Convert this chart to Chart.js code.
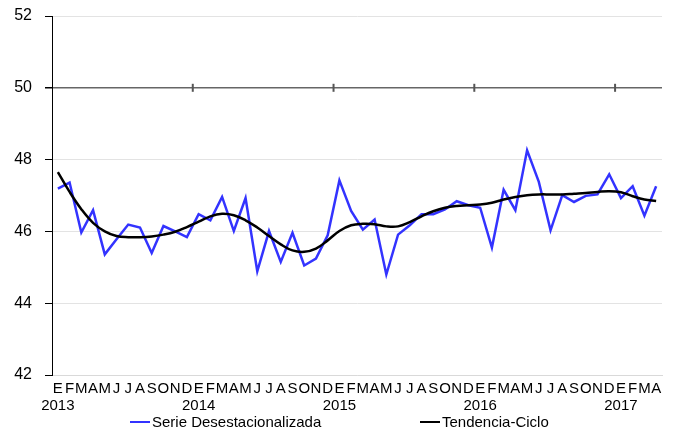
<!DOCTYPE html>
<html>
<head>
<meta charset="utf-8">
<script src="https://cdn.jsdelivr.net/npm/chart.js@4"></script>
<style>
  body { margin: 0; background: #fff; }
  #wrap { position: relative; width: 673px; height: 432px; }
  .leg { position: absolute; top: 413px; font: 15px "Liberation Sans", Arial, sans-serif; color: #000; white-space: nowrap; }
  .leg span { display: inline-block; width: 20px; height: 2px; vertical-align: middle; margin-right: 2px; position: relative; top: -1px; }
</style>
</head>
<body>
<div id="wrap">
  <canvas id="chart" width="673" height="432"></canvas>
  <div class="leg" style="left:130px"><span style="background:#3333ff"></span>Serie Desestacionalizada</div>
  <div class="leg" style="left:420px"><span style="background:#000"></span>Tendencia-Ciclo</div>
</div>
<script>
const months = ['E', 'F', 'M', 'A', 'M', 'J', 'J', 'A', 'S', 'O', 'N', 'D'];
const years = ['2013', '2014', '2015', '2016', '2017'];

// Ene 2013 - Abr 2017
const serieDesest = [
  47.19, 47.36, 45.97, 46.59, 45.36, 45.78, 46.19, 46.11, 45.40, 46.15, 46.00, 45.84,
  46.48, 46.31, 46.96, 46.01, 46.93, 44.89, 46.01, 45.15, 45.96, 45.05, 45.24, 45.89,
  47.42, 46.57, 46.05, 46.33, 44.80, 45.91, 46.17, 46.48, 46.48, 46.61, 46.84, 46.73,
  46.66, 45.55, 47.16, 46.59, 48.26, 47.38, 46.03, 47.01, 46.82, 46.99, 47.03, 47.59,
  46.93, 47.26, 46.44, 47.26
];
const tendencia = [
  47.65, 47.10, 46.62, 46.24, 46.00, 45.87, 45.84, 45.84, 45.86, 45.91, 45.99, 46.12,
  46.27, 46.42, 46.49, 46.45, 46.31, 46.11, 45.87, 45.64, 45.47, 45.43, 45.52, 45.75,
  46.01, 46.17, 46.21, 46.20, 46.14, 46.14, 46.26, 46.42, 46.56, 46.66, 46.71, 46.73,
  46.75, 46.80, 46.89, 46.96, 47.01, 47.03, 47.03, 47.03, 47.05, 47.07, 47.10, 47.12,
  47.09, 46.98, 46.89, 46.85
];
const yTicks = [42, 44, 46, 48, 50, 52];

const labels = serieDesest.map((v, i) => {
  const m = months[i % 12];
  return i % 12 === 0 ? [m, years[i / 12]] : m;
});

// marcas de año sobre la línea de 50
const yearMarks = {
  id: 'yearMarks',
  beforeDatasetsDraw(chart) {
    const x = chart.scales.x, y = chart.scales.y;
    const c = chart.ctx;
    const y50 = y.getPixelForValue(50);
    c.save();
    c.strokeStyle = '#555';
    c.lineWidth = 2;
    for (let i = 12; i < labels.length; i += 12) {
      const px = x.getPixelForValue(i - 0.5);
      c.beginPath();
      c.moveTo(px, y50 - 4);
      c.lineTo(px, y50 + 4);
      c.stroke();
    }
    c.restore();
  }
};

new Chart(document.getElementById('chart'), {
  type: 'line',
  data: {
    labels: labels,
    datasets: [
      {
        label: 'Serie Desestacionalizada',
        data: serieDesest,
        borderColor: '#3333ff',
        borderWidth: 2.5,
        pointRadius: 0,
        tension: 0,
        order: 1
      },
      {
        label: 'Tendencia-Ciclo',
        data: tendencia,
        borderColor: '#000',
        borderWidth: 2.5,
        pointRadius: 0,
        tension: 0.4,
        order: 0
      }
    ]
  },
  options: {
    responsive: false,
    animation: false,
    layout: { padding: { top: 16, right: 11, bottom: 17, left: 0 } },
    plugins: {
      legend: { display: false },
      tooltip: { enabled: false }
    },
    scales: {
      x: {
        offset: true,
        grid: { display: false },
        border: { color: '#d9d9d9', width: 1 },
        ticks: {
          autoSkip: false,
          maxRotation: 0,
          padding: -2,
          color: '#000',
          font: { family: '"Liberation Sans", Arial, sans-serif', size: 15, lineHeight: 1.1 }
        },
        afterFit: s => { s.height = 40; }
      },
      y: {
        min: 42,
        max: 52,
        afterBuildTicks: s => { s.ticks = yTicks.map(v => ({ value: v })); },
        grid: {
          color: c => c.tick && c.tick.value === 50 ? '#666' : '#e3e3e3',
          lineWidth: c => c.tick && c.tick.value === 50 ? 1.5 : 1,
          tickColor: '#000',
          tickLength: 7
        },
        border: { color: '#000', width: 1 },
        ticks: {
          padding: 13,
          color: '#000',
          font: { family: '"Liberation Sans", Arial, sans-serif', size: 16 }
        },
        afterFit: s => { s.width = 52; s.paddingTop = 8; s.paddingBottom = 8; }
      }
    }
  },
  plugins: [yearMarks]
});
</script>
</body>
</html>
